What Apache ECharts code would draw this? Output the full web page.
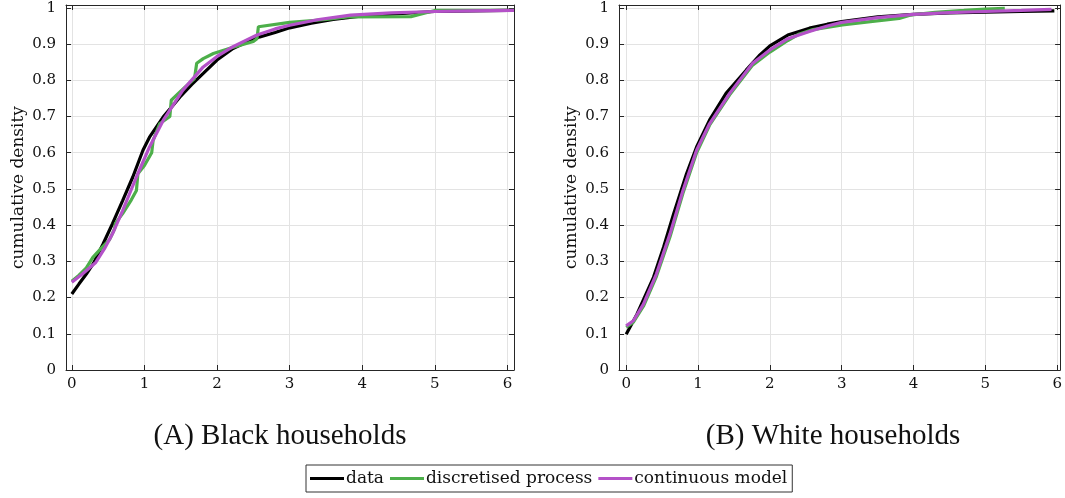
<!DOCTYPE html>
<html><head><meta charset="utf-8">
<script src="https://cdn.jsdelivr.net/npm/echarts@6/dist/echarts.min.js"></script>
<style>html,body{margin:0;padding:0;background:#fff}#c{width:1065px;height:498px}</style>
</head><body><div id="c"></div>
<script>
// ---- Data ----
const seriesNames = ['data', 'discretised process', 'continuous model'];
const panelTitles = ['(A) Black households', '(B) White households'];

// Panel A: Black households
const blackDataX = [0, 0.1, 0.2, 0.3, 0.43, 0.56, 0.7, 0.84, 0.98, 1.07, 1.26, 1.49, 1.65, 1.81, 2.0, 2.22, 2.4, 2.59, 2.8, 3.0, 3.3, 3.6, 4.0, 4.5, 5.0, 5.5, 6.0, 6.09];
const blackDataY = [0.21, 0.238, 0.265, 0.295, 0.348, 0.404, 0.468, 0.533, 0.607, 0.643, 0.699, 0.754, 0.788, 0.819, 0.856, 0.888, 0.905, 0.92, 0.932, 0.945, 0.958, 0.968, 0.978, 0.984, 0.99, 0.992, 0.993, 0.993];
const blackDiscX = [0, 0.1, 0.2, 0.29, 0.4, 0.52, 0.59, 0.6, 0.7, 0.82, 0.89, 0.91, 1.0, 1.1, 1.12, 1.21, 1.35, 1.37, 1.5, 1.69, 1.72, 1.81, 1.95, 2.2, 2.5, 2.55, 2.57, 3.0, 3.5, 3.8, 4.67, 5.0, 6.09];
const blackDiscY = [0.245, 0.262, 0.282, 0.311, 0.335, 0.36, 0.39, 0.405, 0.432, 0.47, 0.496, 0.542, 0.565, 0.6, 0.634, 0.68, 0.7, 0.745, 0.77, 0.805, 0.847, 0.86, 0.874, 0.89, 0.907, 0.915, 0.948, 0.96, 0.968, 0.975, 0.976, 0.993, 0.993];
const blackContX = [0, 0.15, 0.33, 0.45, 0.56, 0.7, 0.89, 1.07, 1.26, 1.53, 1.81, 2.0, 2.22, 2.55, 2.8, 3.0, 3.4, 3.84, 4.4, 5.0, 5.5, 6.09];
const blackContY = [0.242, 0.266, 0.297, 0.335, 0.376, 0.44, 0.533, 0.616, 0.69, 0.773, 0.837, 0.866, 0.893, 0.925, 0.942, 0.952, 0.968, 0.98, 0.986, 0.99, 0.992, 0.993];

// Panel B: White households
const whiteDataX = [0, 0.15, 0.38, 0.52, 0.66, 0.84, 0.98, 1.16, 1.39, 1.67, 1.85, 2.0, 2.25, 2.55, 2.8, 3.0, 3.5, 4.0, 4.5, 5.0, 5.5, 5.96];
const whiteDataY = [0.099, 0.154, 0.256, 0.339, 0.431, 0.542, 0.616, 0.69, 0.764, 0.828, 0.868, 0.895, 0.925, 0.944, 0.955, 0.962, 0.975, 0.982, 0.986, 0.988, 0.99, 0.992];
const whiteDiscX = [0, 0.1, 0.24, 0.42, 0.61, 0.79, 0.98, 1.16, 1.44, 1.76, 2.0, 2.25, 2.41, 2.6, 3.01, 3.4, 3.8, 3.95, 4.3, 4.7, 5.0, 5.27];
const whiteDiscY = [0.118, 0.132, 0.176, 0.258, 0.368, 0.488, 0.6, 0.676, 0.76, 0.842, 0.878, 0.91, 0.928, 0.94, 0.953, 0.962, 0.971, 0.98, 0.988, 0.993, 0.997, 0.999];
const whiteContX = [0, 0.1, 0.24, 0.42, 0.61, 0.79, 0.98, 1.16, 1.44, 1.76, 2.0, 2.25, 2.55, 2.8, 3.0, 3.5, 4.0, 4.5, 5.0, 5.5, 5.92];
const whiteContY = [0.122, 0.136, 0.182, 0.265, 0.376, 0.496, 0.607, 0.68, 0.764, 0.847, 0.884, 0.915, 0.935, 0.95, 0.96, 0.973, 0.982, 0.987, 0.99, 0.993, 0.996];

// ---- Build chart ----
const colors = ['#000000', '#4daf4a', '#b451c8'];
const serif = '"DejaVu Serif", serif';
const pairs = (xs, ys) => xs.map((x, i) => [x, ys[i]]);

const grids = [
  {left: 66, top: 5, width: 448, height: 365},
  {left: 619, top: 5, width: 443, height: 365}
];
const xRanges = [[-0.08, 6.09], [-0.1, 6.04]];
const yRange = [0, 1.008];
const axisColor = '#262626';
const gridColor = '#e3e3e3';

const intFmt = v => Math.abs(v - Math.round(v)) < 1e-6 ? String(Math.round(v)) : '';
const tenthFmt = v => {
  const t = v * 10;
  if (Math.abs(t - Math.round(t)) > 1e-6) return '';
  return String(Math.round(t) / 10);
};

const xAxes = [], yAxes = [];
grids.forEach((g, gi) => {
  xAxes.push({
    type: 'value', gridIndex: gi, position: 'bottom', min: xRanges[gi][0], max: xRanges[gi][1], splitNumber: 6,
    axisLine: {show: true, onZero: false, lineStyle: {color: axisColor, width: 1}},
    axisTick: {show: true, inside: true, length: 5, lineStyle: {color: axisColor}},
    axisLabel: {show: true, formatter: intFmt, color: '#111', fontFamily: serif, fontSize: 15, margin: 7, showMinLabel: false, showMaxLabel: false},
    splitLine: {show: true, lineStyle: {color: gridColor, width: 1}}
  });
  xAxes.push({
    type: 'value', gridIndex: gi, position: 'top', min: xRanges[gi][0], max: xRanges[gi][1], splitNumber: 6,
    axisLine: {show: true, onZero: false, lineStyle: {color: axisColor, width: 1}},
    axisTick: {show: true, inside: true, length: 5, lineStyle: {color: axisColor}},
    axisLabel: {show: false}, splitLine: {show: false}
  });
  yAxes.push({
    type: 'value', gridIndex: gi, position: 'left', min: yRange[0], max: yRange[1], splitNumber: 10,
    name: 'cumulative density', nameLocation: 'middle', nameGap: 39, nameRotate: 90,
    nameTextStyle: {fontFamily: serif, fontSize: 17, color: '#111'},
    axisLine: {show: true, onZero: false, lineStyle: {color: axisColor, width: 1}},
    axisTick: {show: true, inside: true, length: 5, lineStyle: {color: axisColor}},
    axisLabel: {show: true, formatter: tenthFmt, color: '#111', fontFamily: serif, fontSize: 15, margin: 10, showMaxLabel: false},
    splitLine: {show: true, lineStyle: {color: gridColor, width: 1}}
  });
  yAxes.push({
    type: 'value', gridIndex: gi, position: 'right', min: yRange[0], max: yRange[1], splitNumber: 10,
    axisLine: {show: true, onZero: false, lineStyle: {color: axisColor, width: 1}},
    axisTick: {show: true, inside: true, length: 5, lineStyle: {color: axisColor}},
    axisLabel: {show: false}, splitLine: {show: false}
  });
});

const panels = [
  [pairs(blackDataX, blackDataY), pairs(blackDiscX, blackDiscY), pairs(blackContX, blackContY)],
  [pairs(whiteDataX, whiteDataY), pairs(whiteDiscX, whiteDiscY), pairs(whiteContX, whiteContY)]
];
const series = [];
panels.forEach((p, gi) => {
  p.forEach((d, si) => {
    series.push({
      name: seriesNames[si], type: 'line', data: d,
      xAxisIndex: gi * 2, yAxisIndex: gi * 2,
      showSymbol: false, symbol: 'none', smooth: false, clip: true,
      lineStyle: {color: colors[si], width: 3.2},
      itemStyle: {color: colors[si]},
      z: 3 + si, animation: false
    });
  });
});

const chart = echarts.init(document.getElementById('c'));
chart.setOption({
  animation: false,
  backgroundColor: '#fff',
  color: colors,
  grid: grids,
  xAxis: xAxes,
  yAxis: yAxes,
  series: series,
  legend: {
    data: seriesNames, left: 306, top: 465,
    icon: 'rect', itemWidth: 34, itemHeight: 3, itemGap: 6,
    borderColor: '#333', borderWidth: 1, padding: [5, 5, 5, 4],
    textStyle: {fontFamily: serif, fontSize: 17, color: '#111', padding: [0, 0, 0, -3]}
  },
  graphic: panelTitles.map((t, i) => ({
    type: 'text', x: i === 0 ? 280 : 833, y: 436,
    style: {text: t, font: '29px "Liberation Serif", serif', fill: '#111', textAlign: 'center', textVerticalAlign: 'middle'}
  }))
});
</script></body></html>
